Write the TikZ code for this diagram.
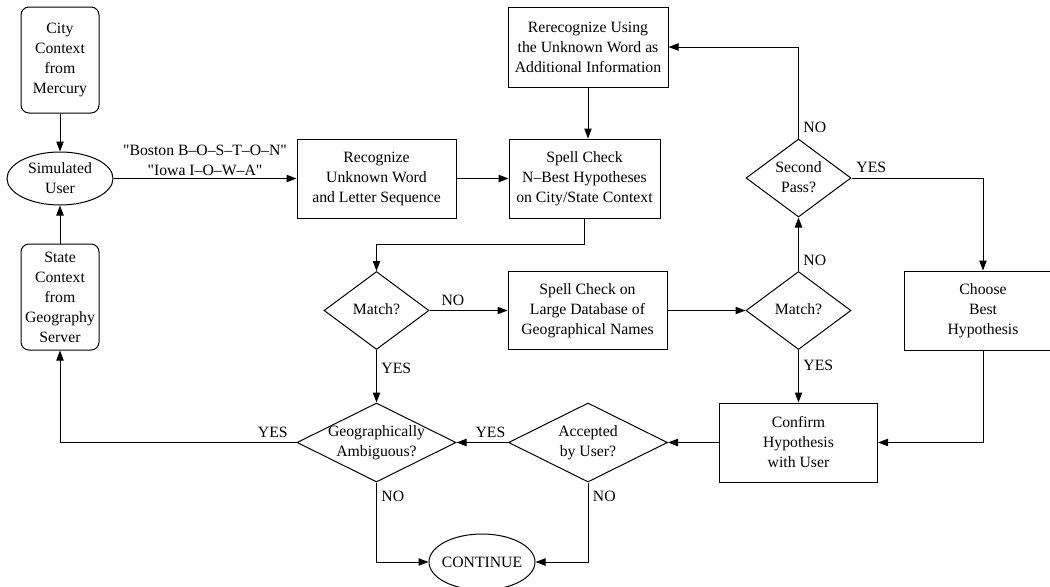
\documentclass[tikz,border=0pt]{standalone}
\usepackage{fontspec}
\setmainfont{Liberation Serif}
\newfontfamily\diagfont{Liberation Serif}
\usetikzlibrary{shapes.geometric,arrows.meta}
\newcommand{\zwtext}[1]{\makebox[0pt]{\begin{tabular}{@{}c@{}}#1\end{tabular}}}
\begin{document}
\begin{tikzpicture}[x=0.75pt,y=-0.75pt,
  every node/.style={font=\diagfont\fontsize{11.8}{15}\selectfont},
  line width=0.75pt,
  box/.style={draw, rectangle, align=center, minimum width=119.25pt, minimum height=59.25pt, inner sep=1pt},
  rbox/.style={draw, rectangle, rounded corners=6pt, align=center, minimum width=58.5pt, minimum height=79.5pt, inner sep=1pt},
  oval/.style={draw, ellipse, align=center, inner sep=0pt, minimum width=79.5pt},
  dia/.style={draw, diamond, aspect=1.35, inner sep=0pt, minimum width=78.75pt, minimum height=58.5pt},
  arr/.style={-{Triangle[length=7.5pt,width=5.5pt]}}
]
\useasboundingbox (0,0) rectangle (1050,586);
\clip (0,0) rectangle (1050,586);

\node[rbox] (city) at (60,60) {City\\Context\\from\\Mercury};
\node[oval, minimum height=39.75pt] (user) at (60,178.5) {Simulated\\User};
\node[rbox] (state) at (60,297) {State\\Context\\from\\Geography\\Server};
\node[box] (recog) at (376.5,178.5) {Recognize\\Unknown Word\\and Letter Sequence};
\node[box, minimum width=113.25pt] (spell) at (584.5,178.5) {Spell Check\\N–Best Hypotheses\\on City/State Context};
\node[box, minimum width=120pt, minimum height=60pt] (rerec) at (588,47) {Rerecognize Using\\the Unknown Word as\\Additional Information};
\node[dia] (match1) at (376.5,310.5) {\zwtext{Match?}};
\node[box, minimum height=58.5pt] (large) at (587.5,310.5) {Spell Check on\\Large Database of\\Geographical Names};
\node[dia] (match2) at (798.5,310.5) {\zwtext{Match?}};
\node[dia] (second) at (798.5,178) {\zwtext{Second\\Pass?}};
\node[box, minimum width=118.5pt] (choose) at (983,310.5) {Choose\\Best\\Hypothesis};
\node[box, minimum width=118.5pt] (confirm) at (798.5,442.5) {Confirm\\Hypothesis\\with User};
\node[dia, minimum width=119.25pt, minimum height=59.25pt] (accepted) at (588,442.5) {\zwtext{Accepted\\by User?}};
\node[dia, minimum width=119.25pt, minimum height=59.25pt] (geo) at (376.5,442.5) {\zwtext{Geographically\\Ambiguous?}};
\node[oval, minimum height=42pt] (cont) at (482,562) {\makebox[0pt]{CONTINUE}};

\draw[arr] (city) -- (user);
\draw[arr] (user.east) -- node[above, inner sep=2pt, align=center] {"Boston B–O–S–T–O–N"\\"Iowa I–O–W–A"} (recog.west);
\draw[arr] (recog) -- (spell);
\draw[arr] (rerec.south) -- (rerec.south |- spell.north);
\draw[arr] (spell.south) -- ++(0,26) -| (match1.north);
\draw[arr] (match1) -- node[above, pos=0.3] {NO} (large);
\draw[arr] (match1) -- node[right, pos=0.35] {YES} (geo);
\draw[arr] (large) -- (match2);
\draw[arr] (match2) -- node[right, pos=0.2] {NO} (second);
\draw[arr] (match2) -- node[right, pos=0.29] {YES} (confirm);
\draw[arr] (second.north) |- node[right, pos=0.06] {NO} (rerec.east);
\draw[arr] (second.east) -| node[above right, pos=0] {YES} (choose.north);
\draw[arr] (choose.south) |- (confirm.east);
\draw[arr] (confirm) -- (accepted);
\draw[arr] (accepted) -- node[above, pos=0.34] {YES} (geo);
\draw[arr] (geo.west) -| node[above, pos=0.05] {YES} (state.south);
\draw[arr] (geo.south) |- node[right, pos=0.09] {NO} (cont.west);
\draw[arr] (accepted.south) |- node[right, pos=0.09] {NO} (cont.east);
\draw[arr] (state) -- (user);
\end{tikzpicture}
\end{document}
